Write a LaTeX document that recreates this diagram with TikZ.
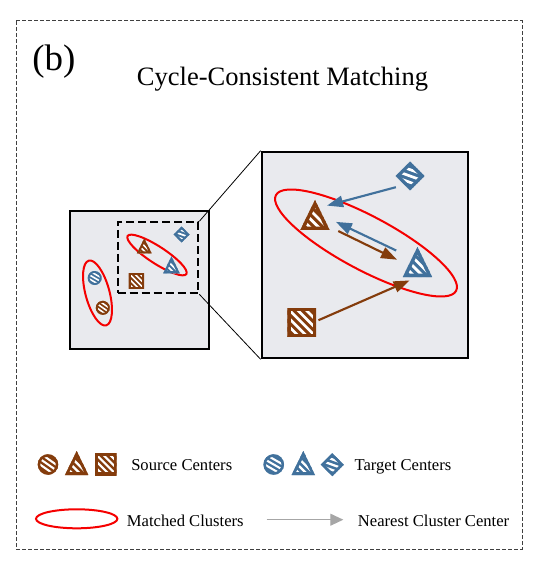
\documentclass[tikz,border=0pt]{standalone}
\usepackage{fontspec}
\setmainfont{Liberation Serif}
\usetikzlibrary{arrows.meta,calc}
\definecolor{brn}{RGB}{132,60,12}
\definecolor{blu}{RGB}{65,113,156}
\definecolor{boxfill}{RGB}{233,234,238}
\definecolor{arrgray}{RGB}{166,166,166}
\definecolor{redc}{RGB}{245,0,0}

\newcommand\patshape[7]{%
 \node[hub] (#1) at (#2,#3) {};
 \begin{scope}[shift={(#2,#3)}]
  \pgfmathsetmacro\pp{0.33*#4+1.2}
  \pgfmathsetmacro\lw{0.75*0.45*\pp}
  \pgfmathsetmacro\bw{0.75*2*(0.18*#4+0.6)}
  \begin{scope}
   \clip #6;
   \fill[#5] #6;
   \foreach \k in {-6,...,6}{\draw[white, line width=\lw pt, rotate=#7] (-3*#4,\k*\pp) -- (3*#4,\k*\pp);}
   \draw[#5, line width=\bw pt] #6;
  \end{scope}
 \end{scope}}
\newcommand\TriShape[6]{\patshape{#1}{#2}{#3}{#4}{#5}{(0,-#4) -- (0.98*#4,#4) -- (-0.98*#4,#4) -- cycle}{#6}}
\newcommand\SqShape[6]{\patshape{#1}{#2}{#3}{#4}{#5}{(-#4,-#4) rectangle (#4,#4)}{#6}}
\newcommand\DiaShape[6]{\patshape{#1}{#2}{#3}{#4}{#5}{(0,-#4) -- (#4,0) -- (0,#4) -- (-#4,0) -- cycle}{#6}}
\newcommand\CircShape[6]{\patshape{#1}{#2}{#3}{#4}{#5}{(0,0) circle [radius=#4]}{#6}}

\begin{document}
\begin{tikzpicture}[x=0.75pt,y=-0.75pt,
 hub/.style={circle,inner sep=0pt,minimum size=22.5pt,draw=none},
 panel/.style={draw=black,line width=1.5pt,fill=boxfill,inner sep=0pt},
 zoombox/.style={draw=black,line width=1.5pt,dash pattern=on 6pt off 3pt,inner sep=0pt},
 cluster/.style={draw=redc,line width=1.5pt},
 barr/.style={draw=blu,line width=1.6pt,-{Triangle[length=12pt,width=8.5pt]}},
 rarr/.style={draw=brn,line width=1.6pt,-{Triangle[length=12pt,width=8.5pt]}},
 legtext/.style={font=\fontsize{12.45}{15}\selectfont,inner sep=0pt,anchor=base west}]
\useasboundingbox (0,0) rectangle (538,566);
\draw[draw=black!75, line width=0.75pt, dash pattern=on 3pt off 1.5pt] (16,21) rectangle (522,549);
\node[font=\fontsize{27.7}{32}\selectfont, anchor=base west, inner sep=0pt] (lbl) at (32,70.5) {(b)};
\node[font=\fontsize{19.9}{24}\selectfont, anchor=base, inner sep=0pt] (title) at (282.5,86) {Cycle-Consistent Matching};

\node[panel, minimum width=104.5pt, minimum height=104pt] (small) at (139.65,280) {};
\node[panel, minimum width=155pt, minimum height=155pt] (big) at (365,255) {};
\node[zoombox, minimum width=60.5pt, minimum height=53.25pt] (zoom) at (158,257.8) {};
\draw[line width=0.6pt] (zoom.north east) -- (big.north west);
\draw[line width=0.6pt] (zoom.south east) -- (big.south west);

\draw[cluster, rotate around={15:(97.5,293)}] (97.5,293) ellipse [x radius=12, y radius=33.5];
\draw[cluster, rotate around={-33:(157,255)}] (157,255) ellipse [x radius=35, y radius=8.5];
\draw[cluster, rotate around={-28:(366,243)}] (366,243) ellipse [x radius=102, y radius=27];

\CircShape{sbc}{94.7}{278}{7}{blu}{-30}
\CircShape{src}{102.8}{307.8}{7}{brn}{-35}
\TriShape{srt}{144.3}{245.8}{7.5}{brn}{-45}
\TriShape{sbt}{171.5}{264.8}{8.5}{blu}{-45}
\SqShape{srs}{136.3}{280.8}{7.7}{brn}{-45}
\DiaShape{sbd}{181.7}{234.5}{8}{blu}{-20}

\DiaShape{BD}{410}{176}{14.5}{blu}{-20}
\TriShape{BT}{315}{215}{15}{brn}{-45}
\TriShape{BlT}{417.5}{262}{15}{blu}{-45}
\SqShape{BS}{301.7}{322.5}{14.3}{brn}{-45}

\draw[barr, shorten <=2.3pt] (BD.223) -- (BT.38);
\draw[barr, shorten <=6.75pt, shorten >=5.1pt] (BlT.150) -- (BT.-15);
\draw[rarr, shorten <=10pt, shorten >=4.35pt] (BT.-42) -- (BlT.181);
\draw[rarr, shorten <=1.3pt, shorten >=6pt] (BS.6) -- (BlT.-92);

\CircShape{lrc}{48}{464.5}{10.3}{brn}{-35}
\TriShape{lrt}{76.7}{463}{12}{brn}{-45}
\SqShape{lrs}{105.8}{464.2}{10.8}{brn}{-45}
\CircShape{lbc}{273.7}{464.5}{10.3}{blu}{-30}
\TriShape{lbt}{303.3}{463}{12}{blu}{-45}
\DiaShape{lbd}{332.3}{464.7}{11.6}{blu}{-20}

\node[legtext] (src) at (131,470.5) {Source Centers};
\node[legtext] (tgt) at (354.3,470.5) {Target Centers};
\draw[cluster] (76.7,518.8) ellipse [x radius=40.7, y radius=9.5];
\node[legtext] (mc) at (126.7,526) {Matched Clusters};
\coordinate (la1) at (266.7,519.7);
\coordinate (la2) at (343.3,519.7);
\draw[draw=arrgray, line width=0.75pt, -{Triangle[length=9.75pt,width=9pt]}] (la1) -- (la2);
\node[legtext] (ncc) at (357.7,526) {Nearest Cluster Center};
\end{tikzpicture}
\end{document}
